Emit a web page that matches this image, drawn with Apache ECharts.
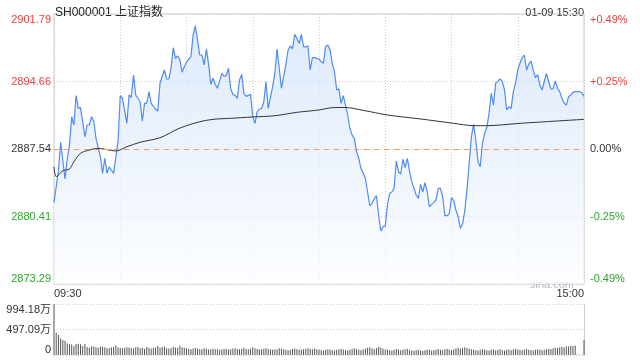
<!DOCTYPE html>
<html><head><meta charset="utf-8">
<script src="https://cdn.jsdelivr.net/npm/echarts@6/dist/echarts.min.js"></script>
<style>html,body{margin:0;padding:0;background:#fff}#c{width:640px;height:360px}</style>
</head><body><div id="c"></div>
<script>
const titleText = 'SH000001 上证指数';
const dateText = '01-09 15:30';
const prevClose = 2887.54;
const priceMin = 2873.29;
const priceMax = 2901.79;
const priceTicks = [2873.29, 2880.415, 2887.54, 2894.665, 2901.79];
const priceTickLabels = ['2873.29', '2880.41', '2887.54', '2894.66', '2901.79'];
const pctTickLabels = ['-0.49%', '-0.25%', '0.00%', '+0.25%', '+0.49%'];
const timeLabels = ['09:30', '15:00'];
const volMax = 994.18;
const volTicks = [0, 497.09, 994.18];
const volTickLabels = ['0', '497.09万', '994.18万'];

// [minute index from 09:30, price]
const pricePoints = [
[0,2881.91],[2,2885.2],[3,2888.25],[5,2884.37],[6,2886.5],[7,2887.9],[8,2890.95],[9,2890.07],[10,2893.17],[11,2891.83],[12,2891.9],[14,2888.84],[15,2890.07],[16,2890.1],[17,2890.95],[18,2890.5],[19,2888.67],[21,2886.73],[22,2884.97],[23,2886.56],[24,2884.97],[25,2885.67],[26,2885.3],[27,2884.97],[29,2888.31],[30,2893.17],[31,2892.9],[33,2890.25],[34,2893.24],[35,2893.0],[36,2895.35],[37,2893.24],[39,2892.53],
[40,2890.49],[41,2892.36],[42,2892.36],[43,2893.59],[44,2892.36],[46,2891.76],[47,2891.55],[48,2894.48],[50,2895.88],[51,2894.93],[52,2894.95],[53,2896.06],[54,2898.23],[55,2897.11],[56,2897.36],[57,2897.0],[58,2895.64],[59,2896.23],[60,2896.7],[62,2897.28],[63,2899.57],[64,2900.55],[65,2899.0],[66,2897.46],[67,2897.46],[68,2896.41],[69,2898.1],[70,2896.5],[71,2894.37],[72,2895.0],[73,2894.37],[74,2893.95],[76,2895.53],[77,2895.2],[78,2895.3],[79,2896.06],
[80,2893.9],[81,2893.3],[82,2893.2],[83,2892.89],[84,2894.82],[85,2895.42],[86,2893.42],[87,2893.1],[88,2893.2],[89,2893.31],[90,2890.95],[91,2890.25],[92,2891.48],[93,2891.76],[94,2891.8],[95,2892.5],[96,2894.64],[97,2891.83],[99,2894.12],[100,2895.53],[101,2898.1],[102,2896.06],[103,2893.95],[105,2896.41],[106,2897.99],[107,2898.44],[108,2898.1],[109,2899.65],[110,2899.2],[111,2898.7],[112,2899.65],[113,2898.34],[114,2898.3],[115,2898.44],[116,2895.88],[117,2897.18],[118,2897.18],[119,2897.1],[120,2897.04],
[121,2896.76],[122,2896.6],[123,2898.34],[124,2898.52],[125,2898.0],[126,2896.59],[127,2895.7],[128,2893.77],[129,2893.9],[130,2892.36],[131,2893.17],[132,2892.18],[133,2891.13],[134,2889.72],[135,2889.0],[136,2888.67],[137,2887.26],[138,2886.56],[139,2885.5],[141,2884.45],[142,2883.03],[143,2881.55],[144,2881.8],[145,2882.26],[146,2882.61],[147,2880.57],[148,2878.88],[149,2879.34],[150,2879.4],[151,2881.63],[152,2882.86],[153,2883.0],[154,2883.39],[155,2886.27],[156,2885.14],[157,2884.9],[158,2886.48],[159,2885.57],[160,2886.56],
[161,2885.2],[162,2884.09],[164,2882.68],[165,2882.33],[166,2883.81],[167,2883.0],[168,2883.98],[169,2883.0],[170,2881.45],[171,2881.7],[172,2881.91],[173,2882.2],[174,2883.39],[175,2883.39],[176,2882.5],[177,2880.5],[178,2880.5],[179,2880.7],[180,2882.4],[181,2882.1],[182,2881.1],[183,2880.39],[184,2879.17],[185,2879.62],[186,2881.0],[187,2883.2],[188,2886.0],[189,2888.84],[190,2890.15],[191,2888.49],[192,2886.2],[193,2885.67],[194,2888.14],[195,2889.2],[196,2889.8],[197,2891.31],[198,2893.42],[199,2892.18],[200,2894.48],
[201,2894.7],[202,2894.93],[203,2894.7],[204,2893.77],[205,2891.66],[206,2892.01],[207,2891.8],[208,2893.59],[209,2894.5],[210,2895.88],[211,2896.59],[212,2897.18],[213,2897.46],[214,2895.88],[215,2896.5],[216,2896.83],[217,2895.9],[218,2895.07],[219,2895.4],[220,2894.3],[221,2893.77],[222,2894.64],[223,2895.53],[224,2894.64],[225,2893.87],[226,2893.9],[227,2894.72],[228,2893.95],[229,2893.59],[230,2892.89],[231,2892.36],[232,2892.18],[233,2893.06],[234,2893.24],[235,2893.52],[236,2893.59],[237,2893.59],[238,2893.59],[239,2893.48],[240,2893.1]
];

// [minute index, average price]
const avgPoints = [
[0,2885.67],[1,2884.62],[4,2885.25],[7,2885.43],[9,2886.2],[12,2887.09],[15,2887.36],[20,2887.61],[24,2887.47],[28,2887.33],[33,2887.78],[39,2888.25],[48,2888.73],[56,2889.65],[60,2890.0],[66,2890.42],[72,2890.67],[80,2890.78],[90,2890.92],[100,2891.05],[110,2891.41],[120,2891.66],[126,2891.9],[132,2891.92],[140,2891.62],[151,2891.13],[166,2890.71],[181,2890.25],[190,2890.0],[196,2890.0],[211,2890.25],[240,2890.67]
];

// volume per minute (万)
const volume = [
994.18, 435, 390, 325, 292, 280, 228, 208, 205, 175,
215, 220, 210, 175, 220, 155, 140, 170, 165, 150,
140, 165, 160, 150, 130, 135, 145, 160, 185, 150,
135, 130, 140, 150, 145, 135, 125, 150, 155, 130,
140, 120, 155, 140, 125, 135, 145, 175, 140, 155,
165, 130, 125, 130, 160, 145, 135, 180, 150, 140,
130, 120, 110, 125, 135, 120, 115, 110, 130, 125,
105, 110, 120, 115, 110, 100, 110, 115, 120, 105,
110, 125, 130, 115, 110, 120, 140, 115, 110, 120,
150, 130, 115, 105, 110, 120, 130, 115, 110, 100,
105, 110, 130, 120, 110, 100, 95, 100, 115, 125,
110, 105, 100, 110, 120, 130, 115, 110, 125, 110,
105,
95, 90, 100, 110, 105, 95, 90, 100, 110, 120,
105, 95, 90, 100, 115, 130, 110, 100, 95, 105,
120, 140, 150, 125, 110, 135, 155, 140, 120, 110,
100, 95, 90, 100, 115, 105, 95, 100, 110, 120,
100, 90, 85, 95, 100, 90, 85, 95, 105, 100,
90, 95, 105, 115, 100, 95, 110, 120, 105, 95,
110, 125, 140, 120, 130, 150, 135, 120, 110, 100,
95, 90, 100, 110, 105, 95, 90, 100, 105, 95,
100, 110, 95, 90, 100, 105, 95, 110, 120, 105,
100, 95, 105, 115, 100, 95, 90, 100, 110, 105,
95, 100, 110, 120, 115, 130, 140, 135, 150, 160,
145, 170, 165, 180, 175, 185, 8, 6, 6, 290
];

const FONT = '"Liberation Sans", Arial, "Noto Sans CJK SC", sans-serif';
const RED = '#f03c3c', GREEN = '#2aa82a', BLACK = '#333';

function nearestIdx(arr, v) {
  v = Number(v); let best = 0;
  for (let k = 1; k < arr.length; k++) if (Math.abs(arr[k] - v) < Math.abs(arr[best] - v)) best = k;
  return best;
}
function priceColor(v) {
  const k = nearestIdx(priceTicks, v);
  return k > 2 ? RED : (k < 2 ? GREEN : BLACK);
}
const dotted = { color: '#ccc', type: [1, 2], width: 1 };

const chart = echarts.init(document.getElementById('c'), null, { renderer: 'canvas' });
chart.setOption({
  animation: false,
  textStyle: { fontFamily: FONT },
  grid: [
    { left: 54, right: 56, top: 14, height: 270, show: true, borderColor: '#ccc', borderWidth: 1, containLabel: false },
    { left: 54, right: 56, top: 304, height: 51, containLabel: false }
  ],
  xAxis: [
    { type: 'value', gridIndex: 0, min: 0, max: 240, interval: 30,
      axisLine: { show: false }, axisTick: { show: false },
      splitLine: { show: true, lineStyle: dotted },
      axisLabel: { fontSize: 11, color: BLACK, fontFamily: FONT, margin: 4,
        alignMinLabel: 'left', alignMaxLabel: 'right',
        formatter: v => v === 0 ? timeLabels[0] : (v === 240 ? timeLabels[1] : '') } },
    { type: 'value', gridIndex: 1, min: 0, max: 240,
      axisLine: { show: false }, axisTick: { show: false }, splitLine: { show: false }, axisLabel: { show: false } }
  ],
  yAxis: [
    { type: 'value', gridIndex: 0, position: 'left', min: priceMin, max: priceMax,
      axisLine: { show: false }, axisTick: { show: false, customValues: priceTicks },
      splitLine: { show: true, lineStyle: dotted },
      axisLabel: { customValues: priceTicks, fontSize: 11, fontFamily: FONT, margin: 3,
        verticalAlignMinLabel: 'bottom', verticalAlignMaxLabel: 'top',
        formatter: v => priceTickLabels[nearestIdx(priceTicks, v)],
        color: v => priceColor(v) } },
    { type: 'value', gridIndex: 0, position: 'right', min: priceMin, max: priceMax,
      axisLine: { show: false }, axisTick: { show: false, customValues: priceTicks },
      splitLine: { show: false },
      axisLabel: { customValues: priceTicks, fontSize: 11, fontFamily: FONT, margin: 6,
        verticalAlignMinLabel: 'bottom', verticalAlignMaxLabel: 'top',
        formatter: v => pctTickLabels[nearestIdx(priceTicks, v)],
        color: v => priceColor(v) } },
    { type: 'value', gridIndex: 1, position: 'left', min: 0, max: volMax, interval: 497.09,
      axisLine: { show: false }, axisTick: { show: false },
      splitLine: { show: true, lineStyle: dotted },
      axisLabel: { fontSize: 11, fontFamily: FONT, margin: 3, color: BLACK,
        verticalAlignMinLabel: 'bottom', verticalAlignMaxLabel: 'top',
        formatter: v => volTickLabels[nearestIdx(volTicks, v)] } },
    { type: 'value', gridIndex: 1, position: 'right', min: 0, max: volMax,
      axisLine: { show: true, lineStyle: { color: '#ccc' } }, axisTick: { show: false },
      splitLine: { show: false }, axisLabel: { show: false } }
  ],
  series: [
    { type: 'line', xAxisIndex: 0, yAxisIndex: 0, data: pricePoints, showSymbol: false, z: 3,
      lineStyle: { color: '#4f8cf0', width: 1.2 },
      areaStyle: { origin: 'start', color: new echarts.graphic.LinearGradient(0, 0, 0, 1, [
        { offset: 0, color: '#d0e0f8' }, { offset: 1, color: '#fafcff' }]) },
      markLine: { silent: true, symbol: 'none', label: { show: false }, z: 5,
        emphasis: { disabled: true },
        lineStyle: { color: '#f29a62', type: [5, 5], width: 1, opacity: 1 },
        data: [{ yAxis: prevClose }] } },
    { type: 'line', xAxisIndex: 0, yAxisIndex: 0, data: avgPoints, showSymbol: false, smooth: 0.3, z: 4,
      lineStyle: { color: '#333', width: 1 } },
    { type: 'bar', xAxisIndex: 1, yAxisIndex: 2, data: volume.map((v, i) => [i, v]), barWidth: 1,
      itemStyle: { color: '#555' } }
  ],
  graphic: [
    { type: 'text', x: 55, y: 7, style: { text: titleText, font: '12px ' + FONT, fill: '#222', textBaseline: 'middle', textAlign: 'left' } },
    { type: 'text', x: 584, y: 7, style: { text: dateText, font: '11px ' + FONT, fill: '#333', textBaseline: 'middle', textAlign: 'right' } },
    { type: 'text', x: 552, y: 279, style: { text: 'sina.com', font: '11px ' + FONT, fill: '#b8b8b8', textBaseline: 'middle', textAlign: 'center' } }
  ]
});
</script></body></html>
